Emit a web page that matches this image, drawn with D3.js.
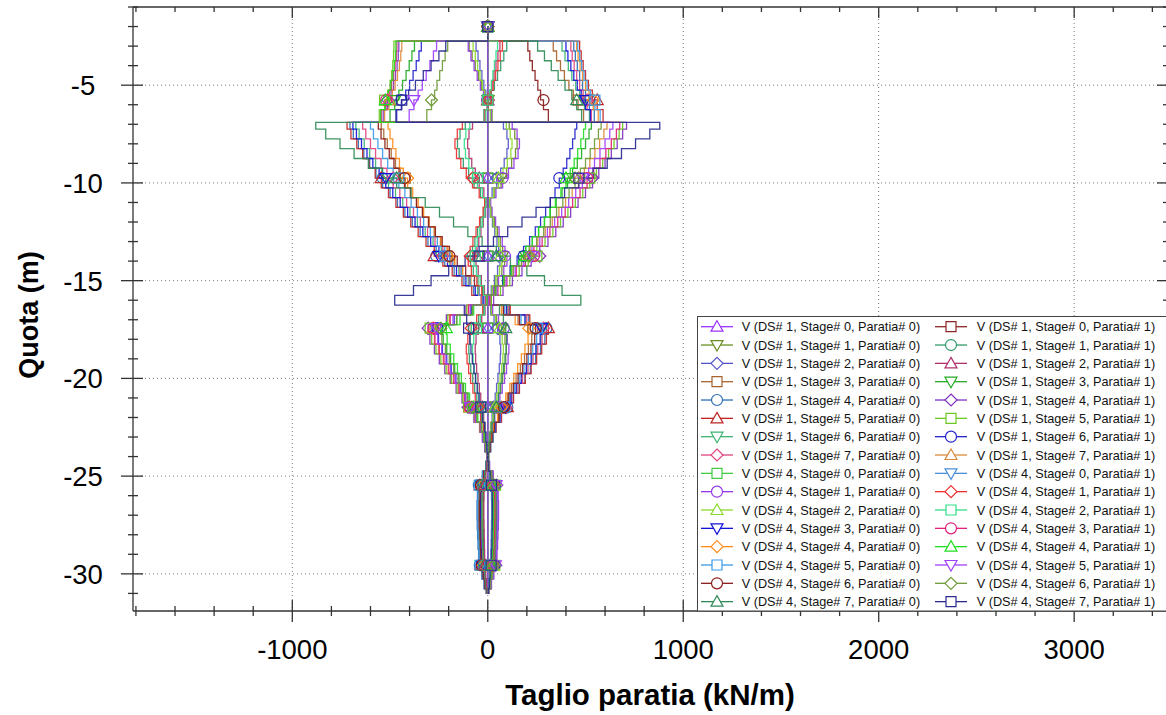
<!DOCTYPE html>
<html><head><meta charset="utf-8">
<script src="https://cdn.jsdelivr.net/npm/d3@7"></script>
<style>body{margin:0;background:#fff}svg{display:block}text{font-family:"Liberation Sans",Arial,sans-serif}</style>
</head><body>
<svg id="chart" width="1166" height="715"></svg>
<script>
// ---------- DATA ----------
const depth = [-2, -2.75, -3.25, -3.75, -4.25, -4.75, -5.25, -5.75, -6.25, -6.9,
 -7.25, -7.75, -8.25, -8.75, -9.25, -9.75, -10.25, -10.75, -11.25, -11.75,
 -12.25, -12.75, -13.25, -13.75, -14.25, -14.75, -15.25, -15.75, -16.25, -16.75,
 -17.25, -17.75, -18.25, -18.75, -19.25, -19.75, -20.25, -20.75, -21.25, -21.75,
 -22.25, -22.75, -23.25, -23.75, -24.25, -24.75, -25.25, -25.75, -26.25, -26.75,
 -27.25, -27.75, -28.25, -28.75, -29.25, -29.75, -30.25, -30.75, -31];

const v_ds1_s0_p0 = [0,0,0,0,0,0,0,0,0,0,0,0,0,0,0,0,0,0,0,0,0,0,0,0,0,0,0,0,0,0,0,0,0,0,0,0,0,0,0,0,0,0,0,0,0,0,0,0,0,0,0,0,0,0,0,0,0,0,0];
const v_ds1_s1_p0 = [0, -95,-80,-64,-48,-32,-16,2,22, 110,138,150,142,122,96,68,36,12,18,34,50,64,76,86,72,48,26,8, 20,45,70,88,95,92,85,76,66,55,44,32,20, 14,8,3,8,16,24,29,30,30,29,28,26,24,20,15,9,3,0];
const v_ds1_s2_p0 = [0, -60,-50,-40,-30,-20,-10,2,14, 80,98,105,98,84,66,46,22,6,12,24,36,47,56,62,50,34,18,5, 15,32,50,62,66,64,59,52,45,38,30,22,14, 10,5,2,5,10,15,19,20,20,19,18,17,16,14,10,6,2,0];
const v_ds1_s3_p0 = [0, 335,352,372,392,415,438,462,490, -545,-532,-514,-494,-472,-448,-422,-394,-364,-334,-304,-274,-242,-208,-172,-132,-90,-48,-8, 80,155,230,225,208,188,167,145,122,100,78,55,32, 22,12,3,-7,-20,-33,-38,-40,-40,-39,-38,-36,-34,-30,-22,-14,-6,0];
const v_ds1_s4_p0 = [0, 440,448,458,470,485,500,520,545, -705,-688,-662,-634,-604,-572,-538,-500,-462,-424,-386,-346,-306,-264,-220,-172,-122,-72,-26, 110,210,300,292,270,245,218,190,160,130,100,70,42, 28,15,4,-9,-28,-46,-53,-55,-55,-54,-52,-50,-47,-41,-31,-19,-8,0];
const v_ds1_s5_p0 = [0, 470,478,488,500,515,535,560,590, -720,-700,-670,-640,-608,-576,-545,-508,-470,-432,-394,-356,-316,-274,-230,-182,-132,-82,-34, 115,215,310,300,276,250,222,192,162,132,100,70,42, 26,14,4,-8,-24,-40,-46,-48,-48,-47,-46,-44,-41,-36,-27,-17,-7,0];
const v_ds1_s6_p0 = [0, 380,395,412,430,450,470,495,520, -675,-658,-632,-604,-574,-542,-508,-472,-435,-398,-360,-320,-280,-238,-194,-148,-100,-52,-6, 100,195,280,272,250,226,200,174,148,120,92,64,38, 24,13,4,-8,-22,-37,-42,-44,-44,-43,-42,-40,-38,-33,-25,-15,-6,0];
const v_ds1_s7_p0 = [0, 425,432,442,455,470,488,508,530, -640,-624,-600,-574,-546,-516,-484,-450,-415,-380,-345,-308,-270,-230,-188,-142,-94,-46,0, 105,200,285,278,256,232,206,178,150,122,94,66,38, 20,11,3,-6,-17,-28,-32,-34,-34,-33,-32,-31,-29,-25,-19,-12,-5,0];

const v_ds4_s0_p0 = [0,0,0,0,0,0,0,0,0,0,0,0,0,0,0,0,0,0,0,0,0,0,0,0,0,0,0,0,0,0,0,0,0,0,0,0,0,0,0,0,0,0,0,0,0,0,0,0,0,0,0,0,0,0,0,0,0,0,0];
const v_ds4_s1_p0 = [0, -100,-86,-70,-54,-38,-22,-4,18, 125,150,162,155,134,106,76,42,15,22,40,58,74,88,98,82,55,30,10, 25,55,82,100,108,104,96,86,74,62,50,36,22, 15,8,2,-6,-16,-27,-34,-36,-36,-35,-34,-32,-30,-26,-19,-12,-5,0];
const v_ds4_s2_p0 = [0, -75,-64,-52,-40,-28,-16,-2,14, 95,115,124,118,100,78,55,30,10,15,28,42,55,65,72,60,40,22,6, 18,40,60,74,80,77,71,63,54,45,36,26,16, 11,6,2,-4,-10,-17,-22,-24,-24,-23,-22,-21,-20,-17,-13,-8,-3,0];
const v_ds4_s3_p0 = [0, 400,410,425,440,458,478,500,525, -690,-672,-646,-618,-588,-556,-522,-486,-448,-410,-372,-332,-292,-250,-206,-160,-112,-64,-20, 95,190,275,268,246,222,197,171,145,118,91,63,38, 21,12,3,-7,-19,-31,-36,-38,-38,-37,-36,-35,-32,-28,-21,-13,-5,0];
const v_ds4_s4_p0 = [0, 455,462,472,485,500,518,540,565, -510,-500,-486,-470,-452,-432,-410,-384,-356,-328,-300,-270,-238,-204,-168,-128,-86,-46,-6, 70,140,210,206,190,172,153,133,113,92,71,50,30, 18,10,2,-5,-15,-25,-28,-30,-30,-29,-28,-27,-25,-22,-17,-10,-4,0];
const v_ds4_s5_p0 = [0, 460,470,480,492,508,525,548,575, -600,-585,-562,-538,-512,-484,-455,-424,-392,-360,-328,-294,-258,-220,-180,-136,-90,-44,-2, 85,170,255,250,230,208,185,161,137,112,87,62,36, 26,14,4,-9,-26,-43,-50,-52,-52,-51,-49,-47,-44,-39,-29,-18,-7,0];
const v_ds4_s6_p0 = [0, 205,215,228,242,256,270,285,310, -560,-546,-526,-504,-480,-454,-426,-396,-365,-334,-302,-268,-233,-196,-156,-113,-68,-24,18, 80,162,245,240,221,200,178,155,131,107,83,58,34, 22,12,3,-7,-21,-35,-40,-42,-42,-41,-40,-38,-36,-31,-24,-15,-6,0];
const v_ds4_s7_p0 = [0, 255,290,325,360,395,430,455,480, -880,-829,-756,-684,-611,-538,-466,-393,-320,-247,-175,-102,-29,44,116,200,290,380,476, 60,80,92,96,94,88,80,72,63,54,44,33,22, 12,6,1,-4,-12,-20,-23,-24,-24,-24,-23,-22,-20,-18,-13,-8,-3,0];

const v_ds1_s0_p1 = [0,0,0,0,0,0,0,0,0,0,0,0,0,0,0,0,0,0,0,0,0,0,0,0,0,0,0,0,0,0,0,0,0,0,0,0,0,0,0,0,0,0,0,0,0,0,0,0,0,0,0,0,0,0,0,0,0,0,0];
const v_ds1_s1_p1 = [0, 97,82,66,50,34,18,0,-20, -115,-142,-155,-146,-125,-98,-70,-38,-14,-20,-36,-52,-66,-78,-88,-74,-50,-27,-9, -22,-47,-72,-90,-97,-94,-87,-77,-67,-56,-45,-33,-21, -14,-8,-3,-8,-16,-24,-29,-31,-31,-30,-28,-26,-24,-20,-15,-9,-3,0];
const v_ds1_s2_p1 = [0, 62,52,42,32,22,12,0,-12, -78,-96,-103,-96,-82,-64,-44,-20,-5,-11,-23,-35,-46,-55,-60,-49,-33,-17,-4, -14,-31,-48,-60,-64,-62,-57,-50,-43,-36,-29,-21,-13, -9,-5,-2,-5,-10,-15,-19,-20,-20,-19,-18,-17,-16,-14,-10,-6,-2,0];
const v_ds1_s3_p1 = [0, -375,-388,-402,-418,-436,-455,-476,-500, 530,518,500,480,458,434,408,380,350,320,290,260,228,194,158,118,76,36,-4, -82,-158,-234,-228,-210,-190,-169,-147,-124,-101,-79,-56,-33, -22,-12,-3,7,20,33,38,40,40,39,38,36,34,30,22,14,6,0];
const v_ds1_s4_p1 = [0, -455,-458,-464,-472,-482,-495,-512,-535, 710,690,662,632,600,568,536,500,462,424,386,348,308,266,222,175,126,78,30, -112,-212,-305,-296,-273,-248,-220,-192,-162,-132,-101,-71,-42, -28,-15,-4,9,28,46,53,55,55,54,52,50,47,41,31,19,8,0];
const v_ds1_s5_p1 = [0, -480,-482,-486,-492,-500,-512,-528,-555, 690,672,646,618,588,556,522,486,448,410,372,333,293,251,207,161,113,65,18, -108,-205,-295,-287,-265,-240,-213,-186,-157,-128,-98,-68,-40, -26,-14,-4,8,24,40,46,48,48,47,46,44,41,36,27,17,7,0];
const v_ds1_s6_p1 = [0, -340,-352,-366,-382,-400,-420,-442,-466, 455,446,434,420,404,386,366,344,320,296,270,243,214,183,150,114,76,38,0, -86,-172,-258,-252,-232,-210,-187,-163,-138,-113,-88,-62,-36, -24,-13,-4,8,22,37,42,44,44,43,42,40,38,33,25,15,6,0];
const v_ds1_s7_p1 = [0, -440,-445,-452,-462,-474,-488,-506,-528, 610,594,572,548,522,494,464,432,398,364,330,294,256,216,174,130,84,38,-6, -100,-196,-280,-273,-252,-228,-203,-176,-149,-121,-93,-65,-38, -20,-11,-3,6,17,28,32,34,34,33,32,31,29,25,19,12,5,0];

const v_ds4_s0_p1 = [0,0,0,0,0,0,0,0,0,0,0,0,0,0,0,0,0,0,0,0,0,0,0,0,0,0,0,0,0,0,0,0,0,0,0,0,0,0,0,0,0,0,0,0,0,0,0,0,0,0,0,0,0,0,0,0,0,0,0];
const v_ds4_s1_p1 = [0, 75,64,52,40,28,16,2,-14, -130,-156,-168,-160,-138,-110,-78,-44,-16,-24,-42,-60,-76,-90,-100,-84,-56,-31,-10, -26,-57,-85,-102,-110,-106,-98,-88,-76,-64,-51,-37,-23, -15,-8,-2,6,16,27,34,37,37,36,35,33,30,26,19,12,5,0];
const v_ds4_s2_p1 = [0, 50,42,34,26,18,10,0,-10, -92,-112,-120,-114,-97,-76,-53,-28,-9,-14,-27,-41,-54,-64,-70,-58,-39,-21,-6, -17,-38,-58,-72,-78,-75,-69,-61,-52,-44,-35,-25,-15, -11,-6,-2,4,10,17,22,24,23,22,21,20,19,16,12,8,3,0];
const v_ds4_s3_p1 = [0, -465,-468,-474,-482,-492,-504,-520,-545, 675,658,632,604,574,542,508,472,434,396,358,318,278,236,192,146,98,52,10, -98,-192,-278,-270,-248,-224,-199,-173,-146,-119,-92,-64,-38, -21,-12,-3,7,19,31,36,38,38,37,36,35,32,28,21,13,5,0];
const v_ds4_s4_p1 = [0, -470,-472,-478,-486,-496,-508,-524,-548, 500,490,476,460,442,422,400,374,346,318,290,260,228,194,158,120,80,40,2, -72,-142,-212,-208,-192,-174,-155,-135,-114,-93,-72,-51,-30, -18,-10,-2,5,15,25,28,30,30,29,28,27,25,22,17,10,4,0];
const v_ds4_s5_p1 = [0, -262,-278,-296,-315,-335,-356,-378,-402, 640,624,600,574,546,516,484,450,414,378,342,305,266,226,184,140,94,48,4, -90,-178,-262,-256,-236,-214,-190,-166,-141,-115,-89,-63,-37, -26,-14,-4,9,26,43,50,52,52,51,49,47,44,39,29,18,7,0];
const v_ds4_s6_p1 = [0, -205,-218,-232,-246,-260,-272,-288,-312, 580,566,546,524,500,474,446,416,384,352,320,286,250,212,172,130,86,42,-2, -78,-160,-240,-235,-217,-197,-175,-152,-129,-105,-81,-57,-33, -22,-12,-3,7,21,35,40,42,42,41,40,38,36,31,24,15,6,0];
const v_ds4_s7_p1 = [0, -215,-250,-290,-330,-370,-405,-440,-470, 880,829,756,684,611,538,466,393,320,247,175,102,29,-44,-116,-200,-290,-380,-476, -120,-108,-98,-92,-86,-79,-71,-63,-54,-45,-36,-26,-16, -10,-5,-1,4,12,19,23,24,24,23,22,21,19,17,12,8,3,0];

const seriesValues = [
  v_ds1_s0_p0, v_ds1_s1_p0, v_ds1_s2_p0, v_ds1_s3_p0, v_ds1_s4_p0, v_ds1_s5_p0, v_ds1_s6_p0, v_ds1_s7_p0,
  v_ds4_s0_p0, v_ds4_s1_p0, v_ds4_s2_p0, v_ds4_s3_p0, v_ds4_s4_p0, v_ds4_s5_p0, v_ds4_s6_p0, v_ds4_s7_p0,
  v_ds1_s0_p1, v_ds1_s1_p1, v_ds1_s2_p1, v_ds1_s3_p1, v_ds1_s4_p1, v_ds1_s5_p1, v_ds1_s6_p1, v_ds1_s7_p1,
  v_ds4_s0_p1, v_ds4_s1_p1, v_ds4_s2_p1, v_ds4_s3_p1, v_ds4_s4_p1, v_ds4_s5_p1, v_ds4_s6_p1, v_ds4_s7_p1
];
const paratie = [0, 1];
const designSets = [1, 4];
const stages = [0, 1, 2, 3, 4, 5, 6, 7];
const seriesLabels = [];
paratie.forEach(p => designSets.forEach(ds => stages.forEach(s =>
  seriesLabels.push(`V (DS# ${ds}, Stage# ${s}, Paratia# ${p})`))));

const markerDepths = [-2, -5.76, -9.75, -13.74, -17.43, -21.47, -25.46, -29.56];
const xTickValues = [-1000, 0, 1000, 2000, 3000];
const yTickValues = [-5, -10, -15, -20, -25, -30];

// ---------- STYLES ----------
const colors = [
  '#9933ff','#6b8e23','#5555c8','#a8642e','#2c6fb4','#c02424','#3cb371','#e0447f',
  '#44cc44','#9438e8','#8ad92a','#1414d8','#ff8c1a','#3b9be8','#8b1c1c','#2e8b57',
  '#8b2525','#2e9a6a','#b0306c','#22aa22','#8030c0','#6cc820','#2424cc','#dd8a3a',
  '#4a90d9','#ee3030','#33dd88','#e0207a','#22dd22','#a040ff','#6f9a38','#2a2a90'
];
const symbols = [
  'triUp','triDown','diamond','square','circle','triUp','triDown','diamond',
  'square','circle','triUp','triDown','diamond','square','circle','triUp',
  'square','circle','triUp','triDown','diamond','square','circle','triUp',
  'triDown','diamond','square','circle','triUp','triDown','diamond','square'
];
const symbolPath = {
  triUp: 'M0,-6L6,4.5L-6,4.5Z',
  triDown: 'M0,6L6,-4.5L-6,-4.5Z',
  diamond: 'M0,-6L6,0L0,6L-6,0Z',
  square: 'M-5,-5H5V5H-5Z',
  circle: 'M5.5,0A5.5,5.5 0 1,1 -5.5,0A5.5,5.5 0 1,1 5.5,0Z'
};

// ---------- CHART ----------
const W = 1166, H = 715;
const L = 133, T = 7, R = 1168, B = 611;
const svg = d3.select('#chart');
svg.append('rect').attr('width', W).attr('height', H).attr('fill', '#fff');

const x = d3.scaleLinear().domain([-1815, 3480]).range([L, R]);
const y = d3.scaleLinear().domain([-1, -31.9]).range([T, B]);

svg.append('defs').append('clipPath').attr('id', 'plotclip')
  .append('rect').attr('x', L).attr('y', T).attr('width', R - L).attr('height', B - T);

// series (stage-0 zero lines first, so the first one ends on top of the others)
const plot = svg.append('g').attr('clip-path', 'url(#plotclip)');
const line = d3.line().x(d => x(d[1])).y(d => y(d[0])).curve(d3.curveStepBefore);
const drawOrder = [24, 16, 8, 0].concat(d3.range(32).filter(k => k % 8 !== 0));
drawOrder.forEach(k => {
  const vals = seriesValues[k];
  const pts = depth.map((z, i) => [z, vals[i]]);
  plot.append('path').attr('d', line(pts)).attr('fill', 'none')
    .attr('stroke', colors[k]).attr('stroke-width', 1.3).attr('stroke-opacity', 0.92);
});
drawOrder.forEach(k => {
  const vals = seriesValues[k];
  markerDepths.forEach(md => {
    let idx = 0;
    for (let i = 0; i < depth.length; i++) { if (depth[i] >= md) idx = i; }
    plot.append('path').attr('d', symbolPath[symbols[k]])
      .attr('transform', `translate(${x(vals[idx])},${y(md)})`)
      .attr('fill', 'none').attr('stroke', colors[k]).attr('stroke-width', 1.2);
  });
});

// grid (dotted, drawn over the series)
const grid = svg.append('g').attr('stroke', '#7a7a7a').attr('stroke-width', 1).attr('stroke-dasharray', '1,3');
xTickValues.forEach(v => grid.append('line').attr('x1', x(v)).attr('x2', x(v)).attr('y1', T).attr('y2', B));
yTickValues.forEach(v => grid.append('line').attr('x1', L).attr('x2', R).attr('y1', y(v)).attr('y2', y(v)));

// axes
const ax = svg.append('g').attr('stroke', '#333').attr('stroke-width', 1.3);
ax.append('line').attr('x1', L).attr('x2', L).attr('y1', T).attr('y2', B);
ax.append('line').attr('x1', L).attr('x2', R).attr('y1', B).attr('y2', B);
ax.append('line').attr('x1', L).attr('x2', R).attr('y1', T).attr('y2', T);
ax.append('line').attr('x1', R).attr('x2', R).attr('y1', T).attr('y2', B);
const xMinor = d3.range(-1800, 3401, 200);
const yMinor = d3.range(-1, -31.5, -1);
xMinor.forEach(v => {
  const major = v % 1000 === 0;
  const px = x(v);
  ax.append('line').attr('x1', px).attr('x2', px).attr('y1', major ? B - 11 : B - 5).attr('y2', major ? B + 11 : B + 5);
  ax.append('line').attr('x1', px).attr('x2', px).attr('y1', T).attr('y2', major ? T + 11 : T + 5);
});
yMinor.forEach(v => {
  const major = v % 5 === 0;
  const py = y(v);
  ax.append('line').attr('y1', py).attr('y2', py).attr('x1', major ? L - 12 : L - 5).attr('x2', major ? L + 10 : L + 5);
  ax.append('line').attr('y1', py).attr('y2', py).attr('x1', major ? R - 11 : R - 5).attr('x2', R);
});

// tick labels
xTickValues.forEach(v => svg.append('text').attr('x', x(v)).attr('y', 659)
  .attr('text-anchor', 'middle').attr('font-size', 27.5).attr('fill', '#000').text(v));
yTickValues.forEach(v => svg.append('text').attr('x', 83).attr('y', y(v) + 10)
  .attr('text-anchor', 'middle').attr('font-size', 27.5).attr('fill', '#000').text(v));

// axis titles
svg.append('text').attr('x', 650).attr('y', 705).attr('text-anchor', 'middle')
  .attr('font-size', 29.5).attr('font-weight', 'bold').text('Taglio paratia (kN/m)');
svg.append('text').attr('transform', 'translate(38,315) rotate(-90)').attr('text-anchor', 'middle')
  .attr('font-size', 27).attr('font-weight', 'bold').text('Quota (m)');

// legend
const lg = svg.append('g');
lg.append('rect').attr('x', 697.5).attr('y', 316.5).attr('width', 480).attr('height', B - 316.5)
  .attr('fill', '#fff').attr('stroke', '#444').attr('stroke-width', 1);
seriesLabels.forEach((lab, k) => {
  const col = Math.floor(k / 16), row = k % 16;
  const cy = 326.7 + row * 18.33;
  const x0 = col === 0 ? 701 : 935;
  lg.append('line').attr('x1', x0).attr('x2', x0 + 32).attr('y1', cy).attr('y2', cy)
    .attr('stroke', colors[k]).attr('stroke-width', 1.3);
  lg.append('path').attr('d', symbolPath[symbols[k]]).attr('transform', `translate(${x0 + 16},${cy})`)
    .attr('fill', '#fff').attr('stroke', colors[k]).attr('stroke-width', 1.2);
  lg.append('text').attr('x', col === 0 ? 741.7 : 976.7).attr('y', cy + 4.6)
    .attr('font-size', 12.7).attr('fill', '#111').text(lab);
});
</script>
</body></html>
